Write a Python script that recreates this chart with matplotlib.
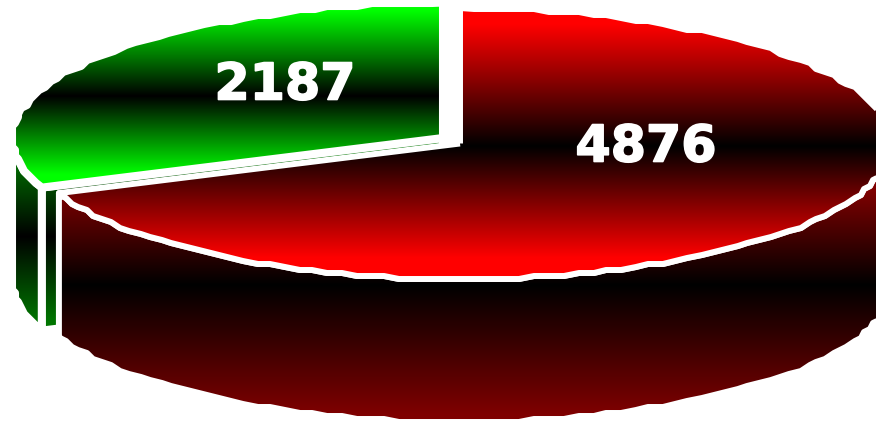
import numpy as np
import matplotlib
matplotlib.use("Agg")
import matplotlib.pyplot as plt
import matplotlib.patheffects as pe
from matplotlib.patches import Polygon

values = [4876, 2187]
labels = ["4876", "2187"]
bright = [(1, 0, 0), (0, 1, 0)]
label_pos = [(646, 147.5), (285, 85.5)]

# pie layout in pixels
centers = [(460, 143.5), (443, 138)]
rx, ry = 431, 135.5
depth = 143
snap = 3
line_w = [4.3, 5.8]


def rim(cx, cy, t0, t1):
    t = np.radians(np.arange(t0, t1, 2.0))
    t = np.append(t, np.radians(t1))
    x = cx + rx * np.sin(t)
    y = cy - ry * np.cos(t)
    # coarse outline, keeps only the end points exact
    x[1:-1] = np.round(x[1:-1] / snap) * snap
    y[1:-1] = np.round(y[1:-1] / snap) * snap
    return np.column_stack([x, y])


def shaded(ax, pts, colour, level, mid, up, low, lw, z):
    # vertical gradient: black at mid, full colour up/low pixels away from it
    y0, y1 = pts[:, 1].min(), pts[:, 1].max()
    ys = np.linspace(y0, y1, 512)
    v = np.where(ys < mid, (mid - ys) / up, (ys - mid) / low)
    v = np.clip(v, 0, 1) * level
    rgb = v[:, None, None] * np.array(colour)[None, None, :]
    im = ax.imshow(rgb, extent=(pts[:, 0].min(), pts[:, 0].max(), y1, y0),
                   aspect="auto", zorder=z, interpolation="bilinear")
    clip = Polygon(pts, closed=True, transform=ax.transData)
    im.set_clip_path(clip)
    ax.add_patch(Polygon(pts, closed=True, fill=False, edgecolor="white",
                         linewidth=lw, joinstyle="round", zorder=z + 0.5))


fig = plt.figure(figsize=(8.76, 4.21), dpi=100)
ax = fig.add_axes([0, 0, 1, 1])

split = 360 * values[0] / sum(values)
down = np.array([0, depth])

# green slice, pulled out of the pie
gc = np.array(centers[1])
g_top = rim(gc[0], gc[1], split, 360)
g_wall = rim(gc[0], gc[1], split, 270)
g_out = np.vstack([g_wall, g_wall[::-1] + down])
end = g_top[0]
g_cut = np.array([end, gc, gc + down, end + down])
shaded(ax, g_out, bright[1], 0.46, 236, 80, 85, line_w[1], 1)
shaded(ax, g_cut, bright[1], 0.46, 236, 80, 85, line_w[1], 2)
shaded(ax, np.vstack([gc, g_top]), bright[1], 1, 96, 85, 78, line_w[1], 3)

# red slice
rc = np.array(centers[0])
r_top = rim(rc[0], rc[1], 0, split)
r_wall = rim(rc[0], rc[1], 90, split)
r_out = np.vstack([r_wall, r_wall[::-1] + down])
shaded(ax, r_out, bright[0], 0.5, 285, 95, 130, line_w[0], 4)
shaded(ax, np.vstack([rc, r_top]), bright[0], 1, 146, 122, 112, line_w[0], 5)

for lab, (x, y) in zip(labels, label_pos):
    t = ax.text(x, y, lab, color="white", fontsize=36.5, fontweight="bold",
                family="DejaVu Sans", ha="center", va="center", zorder=10)
    t.set_path_effects([pe.withStroke(linewidth=1.2, foreground="white")])

ax.set_xlim(0, 876)
ax.set_ylim(421, 0)
ax.axis("off")
fig.savefig("out.png", dpi=100, facecolor="white")
